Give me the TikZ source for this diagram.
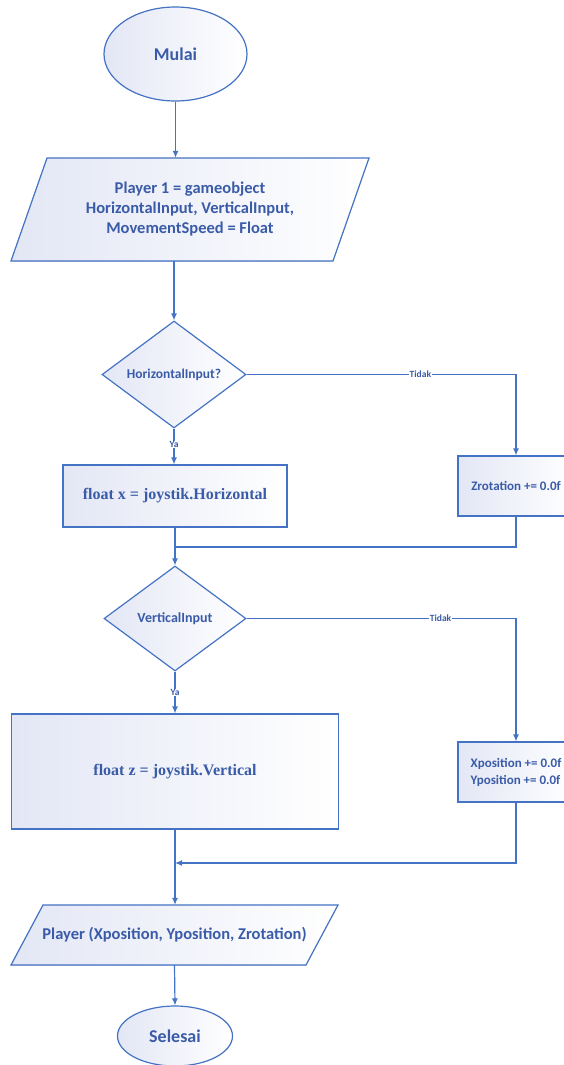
\documentclass[tikz,border=0pt]{standalone}
\usepackage{fontspec}
\setmainfont{Carlito}
\newfontfamily\serifx{Liberation Serif}
\usetikzlibrary{shapes.geometric,arrows.meta,calc}
\definecolor{lineblue}{HTML}{4472C4}
\definecolor{txtblue}{HTML}{3A5BA8}
\definecolor{lav}{HTML}{E3E7F5}
\tikzset{
  every node/.style={text=txtblue},
  shp/.style={draw=lineblue, line width=1.2pt, left color=lav, right color=white},
  term/.style={shp, ellipse, inner sep=0pt},
  dec/.style={shp, diamond, inner sep=0pt},
  proc/.style={shp, rectangle, inner sep=0pt},
  ghost/.style={rectangle, inner sep=0pt, draw=none},
  conn/.style={draw=lineblue, line width=1.2pt},
  arr/.style={conn, -{Latex[length=7pt,width=6pt]}},
  lbl/.style={fill=white, inner sep=0.5pt, font=\fontsize{9.5}{10}\selectfont\bfseries},
}
\begin{document}
\begin{tikzpicture}[x=1pt,y=-1pt]
\useasboundingbox (0,0) rectangle (564,1065);
% start
\node[term, minimum width=143pt, minimum height=94pt, font=\fontsize{18}{21}\selectfont\bfseries] (m) at (175.5,54) {Mulai};
% parallelogram 1
\fill[left color=lav, right color=white] (47,158) -- (369,158) -- (333,261) -- (11,261) -- cycle;
\draw[conn] (47,158) -- (369,158) -- (333,261) -- (11,261) -- cycle;
\node[ghost, minimum width=358pt, minimum height=103pt, align=center, font=\fontsize{16.5}{20}\selectfont\bfseries] (p1) at (190,209.5) {Player 1 = gameobject\\HorizontalInput, VerticalInput,\\MovementSpeed = Float};
% decision 1
\node[dec, minimum width=144pt, minimum height=107pt, font=\fontsize{13.5}{15}\selectfont\bfseries] (d1) at (174,374.5) {HorizontalInput?};
% process x
\node[proc, minimum width=224pt, minimum height=62pt, font=\serifx\fontsize{16}{18}\selectfont\bfseries] (bx) at (175,496) {float x = joystik.Horizontal};
% zrotation
\node[proc, minimum width=116pt, minimum height=60pt, font=\fontsize{13}{17}\selectfont\bfseries] (bzr) at (516,486) {Zrotation += 0.0f};
\coordinate (j1) at (175,547);
% decision 2
\node[dec, minimum width=142pt, minimum height=105pt, font=\fontsize{14}{16}\selectfont\bfseries] (d2) at (175,618.5) {VerticalInput};
% process z
\node[proc, minimum width=327pt, minimum height=115pt, font=\serifx\fontsize{16}{18}\selectfont\bfseries] (bz) at (175,771.5) {float z = joystik.Vertical};
% xy position
\node[proc, minimum width=116pt, minimum height=60pt, align=left, font=\fontsize{13}{17}\selectfont\bfseries] (bxy) at (516,772) {Xposition += 0.0f\\Yposition += 0.0f};
\coordinate (j2) at (175,863);
% parallelogram 2
\fill[left color=lav, right color=white] (43,905) -- (338,905) -- (306,965) -- (11,965) -- cycle;
\draw[conn] (43,905) -- (338,905) -- (306,965) -- (11,965) -- cycle;
\node[ghost, minimum width=327pt, minimum height=60pt, font=\fontsize{16.5}{18}\selectfont\bfseries] (p2) at (174.5,935) {Player (Xposition, Yposition, Zrotation)};
% end
\node[term, minimum width=115pt, minimum height=60pt, font=\fontsize{18}{21}\selectfont\bfseries] (s) at (175,1036) {Selesai};

% connectors
\draw[arr] (m.south) -- (m.south |- p1.north);
\draw[arr] (d1.north |- p1.south) -- (d1.north);
\draw[arr] (d1.east) -- node[lbl, pos=0.645]{Tidak} (d1.east -| bzr.north) -- (bzr.north);
\draw[arr] (d1.south) -- node[lbl, pos=0.45]{Ya} (d1.south |- bx.north);
\draw[conn] (bx.south) -- (j1);
\draw[conn] (bzr.south) -- (j1 -| bzr.south) -- (j1);
\draw[arr] (j1) -- (d2.north);
\draw[arr] (d2.east) -- node[lbl, pos=0.72]{Tidak} (d2.east -| bxy.north) -- (bxy.north);
\draw[arr] (d2.south) -- node[lbl, pos=0.5]{Ya} (bz.north);
\draw[arr] (bxy.south) -- (j2 -| bxy.south) -- (j2);
\draw[arr] (bz.south) -- (bz.south |- p2.north);
\draw[arr] (p2.south) -- (s.north);
\end{tikzpicture}
\end{document}
